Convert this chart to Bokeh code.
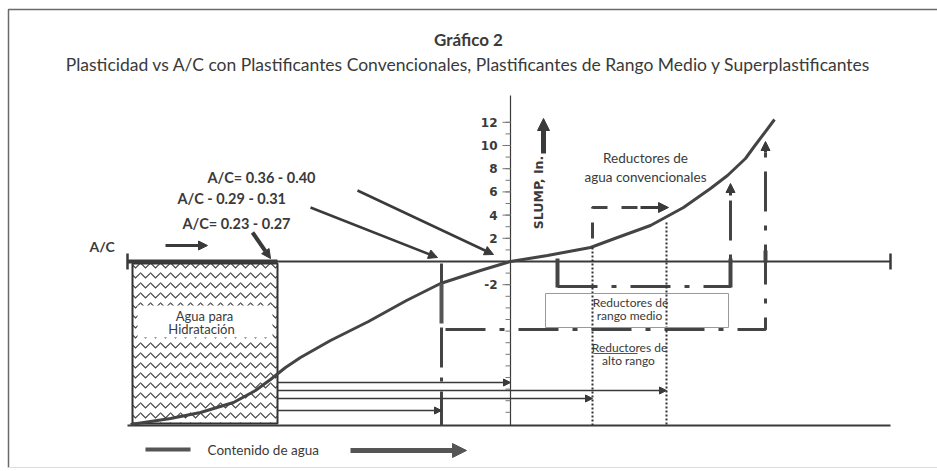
import numpy as np
from bokeh.plotting import figure
from bokeh.models import Range1d, Arrow, NormalHead
from bokeh.core.properties import value
from bokeh.embed import file_html
from bokeh.resources import INLINE

# ---------------- data (positions are in picture pixels, y downward) -------------
TITLE = "Gráfico 2"
SUBTITLE = ("Plasticidad vs A/C con Plastificantes Convencionales, "
            "Plastificantes de Rango Medio y Superplastificantes")

SLUMP_TICKS = [12, 10, 8, 6, 4, 2, -2]
SLUMP_MINOR = list(range(-13, 13))
Y0 = 261          # A/C axis (slump = 0)
PX_PER_IN = 11.6  # pixels per inch of slump
X_AXIS = 510      # slump axis position
X_LEFT, X_RIGHT, Y_BOTTOM = 127, 890, 425

CURVE_X = [130, 170, 200, 233, 255, 270, 285, 300, 330, 368, 406, 440, 480, 510,
           547, 590, 617, 650, 683, 710, 727, 745, 753, 774]
CURVE_Y = [424, 418, 412, 402, 390, 379, 367, 357, 340, 321, 300, 283, 270, 261,
           255, 247, 237, 225, 207, 188, 175, 158, 147, 119]

AC_LABELS = ["A/C= 0.36 - 0.40", "A/C - 0.29 - 0.31", "A/C= 0.23 - 0.27"]
AC_LABEL_X = [207, 177, 182]
AC_LABEL_Y = [177, 198, 223]
AC_ARROW_X0 = [357, 310, 252]
AC_ARROW_Y0 = [190, 207, 232]
AC_ARROW_X1 = [493, 437, 270]
AC_ARROW_Y1 = [254, 257, 258]
AC_ARROW_W = [2.5, 2.5, 4]

HYD_X = [132, 277]
HYD_Y = [263, 423]

FLOW_Y = [382, 390, 398, 410]
FLOW_X_END = [510, 666, 592, 441]

COLOR = "#3a3a3a"
FONT = "Lato"

p = figure(width=937, height=471, x_range=Range1d(0, 937), y_range=Range1d(471, 0),
           output_backend="svg", toolbar_location=None,
           x_axis_location=None, y_axis_location=None, min_border=0)
p.outline_line_color = None
p.xgrid.visible = False
p.ygrid.visible = False
p.background_fill_color = "white"

def txt(x, y, s, size=13, bold=False, align="left", color=COLOR, font=FONT, angle=0):
    p.text(x=[x], y=[y], text=[s], text_font=value(font), text_font_size=f"{size}px",
           text_font_style="bold" if bold else "normal", text_align=align,
           text_baseline="middle", text_color=color, angle=angle)

def arrow(x0, y0, x1, y1, w=1.2, size=7, color=COLOR):
    p.add_layout(Arrow(end=NormalHead(size=size, fill_color=color, line_color=color, line_width=1),
                       x_start=x0, y_start=y0, x_end=x1, y_end=y1,
                       line_width=w, line_color=color))

# frame of the figure
p.line([8, 8, 937], [467, 9, 9], line_color="#6a6a6a", line_width=1.5)
p.line([8, 937], [467, 467], line_color="#dddddd", line_width=1)

# titles
txt(468, 39, TITLE, size=17, bold=True, align="center")
txt(468, 64, SUBTITLE, size=17.5, align="center")

# hydration water box
p.quad(left=HYD_X[0], right=HYD_X[1], top=HYD_Y[0], bottom=HYD_Y[1], fill_color="white",
       hatch_pattern="horizontal_wave", hatch_scale=10, hatch_weight=1.2, hatch_color="#444",
       line_color="#333", line_width=2)
p.quad(left=137, right=272, top=305, bottom=337, fill_color="white", line_color=None)
txt(204, 315, "Agua para", size=13, align="center")
txt(201, 328, "Hidratación", size=13, align="center")

# axes
p.line([X_LEFT, X_RIGHT], [Y0, Y0], line_color=COLOR, line_width=2)
p.line([X_LEFT, HYD_X[1]], [Y0, Y0], line_color=COLOR, line_width=4)
p.segment(x0=[X_LEFT, X_RIGHT], y0=[Y0 - 8, Y0 - 8], x1=[X_LEFT, X_RIGHT], y1=[Y0 + 8, Y0 + 8],
          line_color=COLOR, line_width=2.5)
p.line([X_LEFT, X_RIGHT], [Y_BOTTOM, Y_BOTTOM], line_color=COLOR, line_width=2)
p.line([X_AXIS, X_AXIS], [95, Y_BOTTOM], line_color=COLOR, line_width=1.2)

minor_y = [Y0 - PX_PER_IN * s for s in SLUMP_MINOR if s != 0]
p.segment(x0=[X_AXIS - 5] * len(minor_y), y0=minor_y, x1=[X_AXIS] * len(minor_y), y1=minor_y,
          line_color="#777", line_width=1)
major_y = [Y0 - PX_PER_IN * s for s in SLUMP_TICKS]
p.segment(x0=[X_AXIS - 8] * len(major_y), y0=major_y, x1=[X_AXIS] * len(major_y), y1=major_y,
          line_color="#777", line_width=1)
p.text(x=[497] * len(SLUMP_TICKS), y=major_y, text=[str(t) for t in SLUMP_TICKS],
       text_font=value("DejaVu Sans"), text_font_size="12px", text_font_style="bold",
       text_align="right", text_baseline="middle", text_color=COLOR)

txt(538, 192, "SLUMP, In.", size=12.5, bold=True, align="center", font="DejaVu Sans", angle=np.pi / 2)
arrow(543, 153, 543, 118, w=5, size=12)

# A/C label and arrow
txt(89, 246, "A/C", size=14, bold=True)
arrow(165, 245, 207, 245, w=3, size=9)

# curve
p.line(CURVE_X, CURVE_Y, line_color="#444", line_width=3)

# A/C annotations
p.text(x=AC_LABEL_X, y=AC_LABEL_Y, text=AC_LABELS, text_font=value(FONT), text_font_size="14.5px",
       text_font_style="bold", text_align="left", text_baseline="middle", text_color=COLOR)
for x0, y0, x1, y1, w in zip(AC_ARROW_X0, AC_ARROW_Y0, AC_ARROW_X1, AC_ARROW_Y1, AC_ARROW_W):
    arrow(x0, y0, x1, y1, w=w, size=9)

# high range reducers (dash-dot)
p.line([441, 441], [263, Y_BOTTOM], line_color="#444", line_width=3, line_dash="40 10 4 10")
p.line([441, 441], [283, 323], line_color="#555", line_width=4)
p.line([445, 765, 765], [329, 329, 150], line_color="#444", line_width=3, line_dash="40 14 5 14")
p.line([765, 765], [250, 262], line_color="#444", line_width=4)
arrow(765, 152, 765, 141, w=3, size=9)

# medium range reducers (dash-dot)
p.line([557, 557], [258, 287], line_color="#444", line_width=4)
p.line([557, 730, 730], [286, 286, 193], line_color="#444", line_width=3, line_dash="40 14 5 14")
p.line([730, 730], [258, 287], line_color="#444", line_width=4)
arrow(730, 195, 730, 183, w=3, size=9)

# conventional reducers (dashed)
p.line([592, 592, 655], [238, 207, 207], line_color="#444", line_width=3, line_dash="16 14")
arrow(640, 207, 668, 207, w=3, size=10)

# dotted guides
p.line([592, 592], [247, Y_BOTTOM], line_color="#333", line_width=2, line_dash="2 2")
p.line([666, 666], [222, Y_BOTTOM], line_color="#333", line_width=2, line_dash="2 2")

# medium range label box
p.quad(left=545, right=728, top=293, bottom=327, fill_color=None, line_color="#999", line_width=1)
txt(630, 302, "Reductores de", size=12, align="center")
txt(629, 315, "rango medio", size=12, align="center")

txt(629, 347, "Reductores de", size=12, align="center")
txt(628, 360, "alto rango", size=12, align="center")
p.line([593, 637], [353, 353], line_color="#555", line_width=1)

txt(645, 157, "Reductores de", size=13.5, align="center")
txt(645, 176, "agua convencionales", size=13.5, align="center")

# water content flows
for y, xe in zip(FLOW_Y, FLOW_X_END):
    arrow(HYD_X[1], y, xe, y, w=1.3, size=7)

# legend
p.line([145, 190], [449, 449], line_color="#555", line_width=4)
txt(207, 449, "Contenido de agua", size=13.5)
arrow(350, 450, 466, 450, w=5, size=14, color="#555")

open("out.html", "w").write(file_html(p, INLINE))
